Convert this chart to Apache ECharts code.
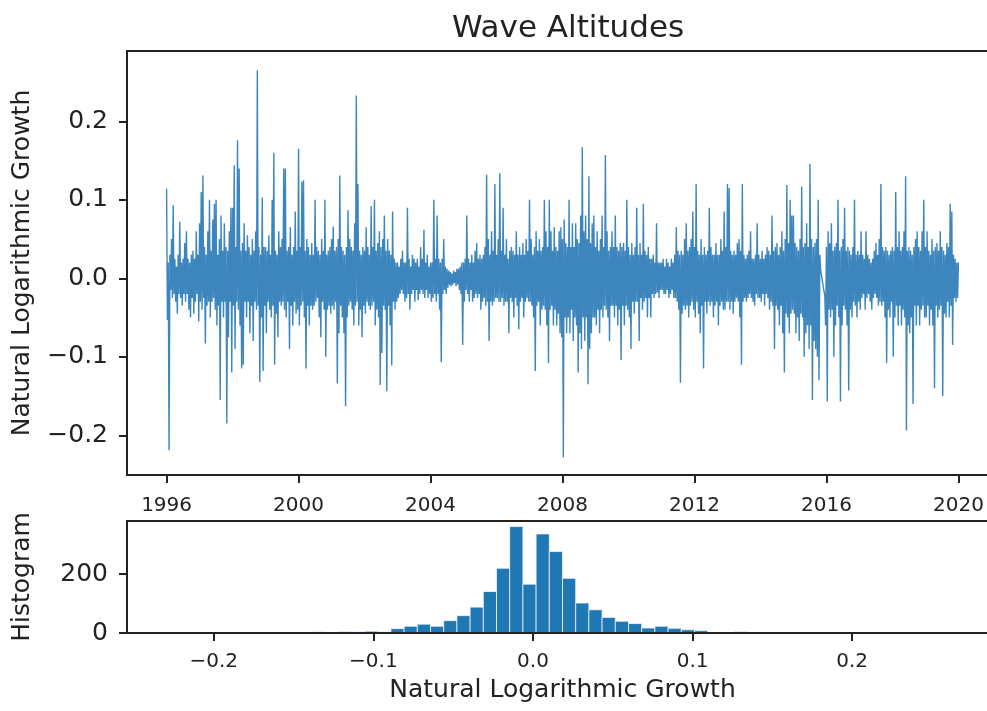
<!DOCTYPE html>
<html>
<head>
<meta charset="utf-8">
<title>Wave Altitudes</title>
<script src="https://cdn.jsdelivr.net/npm/echarts@6/dist/echarts.min.js"></script>
<style>
  html, body { margin: 0; padding: 0; background: #fff; }
  #chart { width: 987px; height: 711px; }
</style>
</head>
<body>
<div id="chart"></div>
<script>
// one value every 0.025 year (40 per year)
const startYear = 1996
const yearStep = 0.025

const waves1996 = [
  0.114, -0.053, 0.02, -0.219, 0.03, -0.015, 0.05, -0.025, 0.093, -0.02, 0.025, -0.03, 0.015, -0.045, 0.03, -0.02, 0.072, -0.025, 0.02, -0.035,
  0.025, -0.02, 0.045, -0.03, 0.06, -0.02, 0.025, -0.04, 0.02, -0.05, 0.03, -0.025, 0.035, -0.045, 0.025, -0.03, 0.06, -0.02, 0.03, -0.055,
  0.07, -0.03, 0.11, -0.04, 0.131, -0.025, 0.04, -0.083, 0.03, -0.035, 0.06, -0.03, 0.1, -0.05, 0.035, -0.03, 0.075, -0.025, 0.095, -0.04,
  0.1, -0.06, 0.03, -0.035, 0.05, -0.155, 0.08, -0.03, 0.035, -0.05, 0.07, -0.03, 0.04, -0.185, 0.035, -0.075, 0.06, -0.03, 0.09, -0.12,
  0.09, -0.035, 0.144, -0.09, 0.04, -0.03, 0.176, -0.04, 0.14, -0.06, 0.035, -0.115, 0.045, -0.11, 0.07, -0.03, 0.035, -0.05, 0.055, -0.03,
  0.04, -0.07, 0.03, -0.035, 0.05, -0.08, 0.035, -0.03, 0.06, -0.04, 0.265, -0.035, 0.04, -0.132, 0.03, -0.05, 0.103, -0.118, 0.04, -0.035,
  0.04, -0.07, 0.035, -0.03, 0.055, -0.04, 0.03, -0.05, 0.1, -0.035, 0.16, -0.11, 0.035, -0.045, 0.03, -0.075, 0.06, -0.03, 0.04, -0.035,
  0.05, -0.03, 0.14, -0.04, 0.14, -0.05, 0.035, -0.03, 0.04, -0.09, 0.065, -0.035, 0.03, -0.06, 0.04, -0.03, 0.085, -0.045, 0.035, -0.04
]
const waves2000 = [
  0.165, -0.06, 0.04, -0.035, 0.123, -0.03, 0.125, -0.05, 0.035, -0.115, 0.05, -0.035, 0.04, -0.06, 0.03, -0.035, 0.045, -0.04, 0.03, -0.035,
  0.1, -0.03, 0.04, -0.025, 0.035, -0.05, 0.03, -0.075, 0.05, -0.03, 0.035, -0.04, 0.1, -0.1, 0.03, -0.04, 0.035, -0.035, 0.04, -0.045,
  0.05, -0.035, 0.066, -0.04, 0.035, -0.03, 0.04, -0.134, 0.05, -0.07, 0.131, -0.035, 0.04, -0.05, 0.035, -0.07, 0.03, -0.163, 0.04, -0.05,
  0.087, -0.035, 0.05, -0.03, 0.04, -0.04, 0.035, -0.06, 0.07, -0.035, 0.233, -0.03, 0.12, -0.06, 0.035, -0.04, 0.03, -0.075, 0.04, -0.035,
  0.035, -0.045, 0.065, -0.03, 0.04, -0.035, 0.03, -0.04, 0.092, -0.035, 0.04, -0.03, 0.1, -0.06, 0.035, -0.04, 0.045, -0.05, 0.06, -0.136,
  0.04, -0.095, 0.05, -0.035, 0.08, -0.04, 0.035, -0.144, 0.05, -0.035, 0.035, -0.06, 0.03, -0.111, 0.085, -0.03, 0.025, -0.04, 0.02, -0.03,
  0.02, -0.025, 0.015, -0.02, 0.025, -0.015, 0.035, -0.02, 0.02, -0.03, 0.02, -0.025, 0.09, -0.02, 0.025, -0.04, 0.015, -0.02, 0.03, -0.015,
  0.025, -0.03, 0.02, -0.015, 0.025, -0.028, 0.015, -0.02, 0.04, -0.015, 0.025, -0.02, 0.062, -0.025, 0.02, -0.015, 0.03, -0.025, 0.015, -0.02
]
const waves2004 = [
  0.02, -0.03, 0.02, -0.025, 0.1, -0.02, 0.025, -0.03, 0.08, -0.02, 0.025, -0.04, 0.02, -0.107, 0.025, -0.02, 0.05, -0.015, 0.015, -0.02,
  0.012, -0.012, 0.01, -0.008, 0.008, -0.01, 0.006, -0.008, 0.01, -0.006, 0.008, -0.01, 0.012, -0.008, 0.012, -0.015, 0.015, -0.02, 0.02, -0.085,
  0.02, -0.03, 0.025, -0.015, 0.08, -0.02, 0.025, -0.03, 0.02, -0.015, 0.03, -0.03, 0.02, -0.025, 0.035, -0.02, 0.045, -0.025, 0.025, -0.02,
  0.03, -0.04, 0.025, -0.03, 0.03, -0.025, 0.04, -0.035, 0.132, -0.03, 0.05, -0.08, 0.03, -0.03, 0.06, -0.035, 0.035, -0.03, 0.12, -0.025,
  0.03, -0.025, 0.05, -0.03, 0.134, -0.03, 0.035, -0.025, 0.09, -0.035, 0.03, -0.03, 0.05, -0.03, 0.025, -0.07, 0.035, -0.025, 0.04, -0.03,
  0.035, -0.05, 0.03, -0.025, 0.06, -0.035, 0.03, -0.065, 0.04, -0.03, 0.03, -0.025, 0.045, -0.05, 0.03, -0.03, 0.05, -0.025, 0.035, -0.03,
  0.1, -0.03, 0.05, -0.035, 0.03, -0.05, 0.04, -0.118, 0.06, -0.035, 0.035, -0.03, 0.05, -0.06, 0.035, -0.04, 0.04, -0.035, 0.1, -0.04,
  0.06, -0.06, 0.04, -0.108, 0.1, -0.04, 0.06, -0.035, 0.035, -0.06, 0.065, -0.04, 0.04, -0.06, 0.035, -0.045, 0.06, -0.07, 0.065, -0.075
]
const waves2008 = [
  0.05, -0.228, 0.075, -0.05, 0.045, -0.07, 0.04, -0.05, 0.1, -0.07, 0.04, -0.04, 0.07, -0.08, 0.04, -0.05, 0.07, -0.06, 0.05, -0.12,
  0.045, -0.07, 0.08, -0.09, 0.167, -0.05, 0.06, -0.08, 0.08, -0.05, 0.05, -0.135, 0.13, -0.09, 0.045, -0.07, 0.07, -0.05, 0.08, -0.05,
  0.04, -0.06, 0.06, -0.04, 0.035, -0.07, 0.05, -0.04, 0.08, -0.05, 0.04, -0.035, 0.157, -0.04, 0.06, -0.05, 0.035, -0.08, 0.04, -0.035,
  0.06, -0.035, 0.04, -0.05, 0.08, -0.035, 0.04, -0.06, 0.035, -0.04, 0.045, -0.104, 0.04, -0.035, 0.045, -0.06, 0.035, -0.035, 0.1, -0.04,
  0.04, -0.05, 0.03, -0.09, 0.045, -0.03, 0.03, -0.045, 0.04, -0.03, 0.09, -0.03, 0.03, -0.08, 0.045, -0.025, 0.03, -0.04, 0.095, -0.03,
  0.035, -0.025, 0.03, -0.05, 0.04, -0.025, 0.025, -0.05, 0.025, -0.02, 0.03, -0.025, 0.02, -0.02, 0.07, -0.018, 0.02, -0.025, 0.02, -0.015,
  0.02, -0.015, 0.025, -0.02, 0.015, -0.02, 0.025, -0.015, 0.02, -0.025, 0.015, -0.02, 0.025, -0.015, 0.02, -0.025, 0.03, -0.025, 0.065, -0.03,
  0.035, -0.04, 0.03, -0.133, 0.035, -0.045, 0.03, -0.035, 0.05, -0.04, 0.07, -0.035, 0.035, -0.05, 0.04, -0.035, 0.05, -0.03, 0.085, -0.04
]
const waves2012 = [
  0.04, -0.05, 0.12, -0.03, 0.035, -0.045, 0.03, -0.07, 0.05, -0.035, 0.03, -0.115, 0.04, -0.03, 0.03, -0.045, 0.035, -0.03, 0.09, -0.035,
  0.04, -0.03, 0.03, -0.05, 0.03, -0.035, 0.045, -0.03, 0.03, -0.06, 0.03, -0.035, 0.05, -0.03, 0.035, -0.04, 0.085, -0.04, 0.04, -0.03,
  0.12, -0.03, 0.115, -0.04, 0.035, -0.03, 0.03, -0.045, 0.035, -0.03, 0.03, -0.025, 0.045, -0.03, 0.05, -0.05, 0.035, -0.11, 0.12, -0.03,
  0.03, -0.025, 0.025, -0.03, 0.03, -0.025, 0.035, -0.02, 0.06, -0.025, 0.025, -0.03, 0.025, -0.035, 0.03, -0.02, 0.07, -0.025, 0.03, -0.025,
  0.025, -0.03, 0.035, -0.02, 0.025, -0.035, 0.03, -0.02, 0.04, -0.025, 0.035, -0.04, 0.03, -0.03, 0.08, -0.035, 0.035, -0.09, 0.04, -0.035,
  0.045, -0.04, 0.03, -0.06, 0.04, -0.035, 0.06, -0.07, 0.035, -0.12, 0.05, -0.045, 0.119, -0.05, 0.045, -0.07, 0.1, -0.045, 0.08, -0.04,
  0.08, -0.045, 0.045, -0.07, 0.04, -0.05, 0.035, -0.08, 0.05, -0.045, 0.117, -0.05, 0.04, -0.1, 0.045, -0.07, 0.07, -0.06, 0.04, -0.09,
  0.146, -0.06, 0.05, -0.155, 0.04, -0.08, 0.045, -0.09, 0.05, -0.1, 0.1, -0.13, 0.03, 0.01, 0.004, -0.003, -0.01, -0.016, -0.022, -0.06
]
const waves2016 = [
  0.04, -0.157, 0.06, -0.04, 0.045, -0.05, 0.07, -0.04, 0.035, -0.1, 0.04, -0.06, 0.045, -0.035, 0.1, -0.05, 0.035, -0.157, 0.04, -0.06,
  0.05, -0.035, 0.09, -0.04, 0.035, -0.06, 0.04, -0.143, 0.035, -0.04, 0.03, -0.05, 0.04, -0.03, 0.1, -0.035, 0.03, -0.05, 0.035, -0.03,
  0.03, -0.04, 0.06, -0.025, 0.03, -0.02, 0.025, -0.04, 0.06, -0.025, 0.03, -0.02, 0.025, -0.03, 0.02, -0.04, 0.025, -0.025, 0.035, -0.02,
  0.045, -0.025, 0.03, -0.035, 0.05, -0.03, 0.12, -0.035, 0.04, -0.03, 0.035, -0.05, 0.04, -0.108, 0.035, -0.04, 0.03, -0.05, 0.035, -0.03,
  0.04, -0.1, 0.035, -0.05, 0.11, -0.035, 0.04, -0.06, 0.06, -0.035, 0.035, -0.06, 0.04, -0.04, 0.06, -0.05, 0.13, -0.194, 0.035, -0.06,
  0.04, -0.07, 0.035, -0.05, 0.03, -0.16, 0.04, -0.035, 0.05, -0.06, 0.06, -0.035, 0.04, -0.06, 0.035, -0.04, 0.06, -0.035, 0.1, -0.05,
  0.04, -0.05, 0.06, -0.035, 0.035, -0.06, 0.03, -0.04, 0.05, -0.06, 0.035, -0.14, 0.04, -0.035, 0.045, -0.05, 0.035, -0.04, 0.06, -0.035,
  0.04, -0.15, 0.035, -0.045, 0.03, -0.05, 0.045, -0.03, 0.04, -0.05, 0.095, -0.035, 0.085, -0.085, 0.03, -0.025, 0.025, -0.03, 0.02, -0.025,
  0.02
]

// histogram: 60 bins from the smallest value upward
const binStart = -0.2296
const binWidth = 0.00827
const binCounts = [
  1, 1, 0, 0, 1, 1, 0, 1, 3, 2,
  3, 4, 3, 5, 4, 6, 4, 15, 23, 30,
  23, 42, 59, 88, 141, 220, 362, 166, 337, 277,
  186, 102, 79, 53, 40, 32, 17, 23, 16, 11,
  8, 3, 2, 5, 2, 2, 1, 3, 1, 0,
  0, 1, 0, 0, 0, 1, 0, 0, 0, 1
]

const yearTicks = [1996, 2000, 2004, 2008, 2012, 2016, 2020]
const growthTicks = [-0.2, -0.1, 0.0, 0.1, 0.2]
const countTicks = [0, 200]

const waveValues = [].concat(waves1996, waves2000, waves2004, waves2008, waves2012, waves2016)
const lineData = waveValues.map((v, i) => [startYear + i * yearStep, v])
const histData = binCounts.map((c, i) => [binStart + i * binWidth, binStart + (i + 1) * binWidth, c])

const ink = '#222'
const font = 'DejaVu Sans'
const fmtNum = v => v.toFixed(1).replace('-', '\u2212')

const axisLine = { show: true, onZero: false, lineStyle: { color: ink, width: 2 } }
const axisTick = { show: true, length: 8, lineStyle: { color: ink, width: 2 } }

const chart = echarts.init(document.getElementById('chart'), null, { renderer: 'canvas' })

chart.setOption({
  animation: false,
  backgroundColor: '#fff',
  title: {
    text: 'Wave Altitudes',
    left: 563,
    top: 8,
    textAlign: 'center',
    textStyle: { fontFamily: font, fontSize: 31, fontWeight: 'normal', color: ink }
  },
  grid: [
    { left: 127, top: 51, width: 871, height: 424, outerBoundsMode: 'none', show: true, borderColor: ink, borderWidth: 2, backgroundColor: 'transparent' },
    { left: 127, top: 521, width: 871, height: 112, outerBoundsMode: 'none', show: true, borderColor: ink, borderWidth: 2, backgroundColor: 'transparent' }
  ],
  xAxis: [
    {
      type: 'value',
      gridIndex: 0,
      min: 1994.8,
      max: 2021.2,
      axisLine: axisLine,
      axisTick: Object.assign({ customValues: yearTicks }, axisTick),
      splitLine: { show: false },
      axisLabel: {
        customValues: yearTicks,
        formatter: v => String(v),
        fontFamily: font,
        fontSize: 20,
        color: ink,
        margin: 21
      }
    },
    {
      type: 'value',
      gridIndex: 1,
      min: -0.2544,
      max: 0.2914,
      name: 'Natural Logarithmic Growth',
      nameLocation: 'middle',
      nameGap: 45,
      nameTextStyle: { fontFamily: font, fontSize: 25, color: ink },
      axisLine: axisLine,
      axisTick: Object.assign({ customValues: growthTicks }, axisTick),
      splitLine: { show: false },
      axisLabel: {
        customValues: growthTicks,
        formatter: fmtNum,
        fontFamily: font,
        fontSize: 20,
        color: ink,
        margin: 19
      }
    }
  ],
  yAxis: [
    {
      type: 'value',
      gridIndex: 0,
      min: -0.2506,
      max: 0.2896,
      name: 'Natural Logarithmic Growth',
      nameLocation: 'middle',
      nameGap: 92,
      nameTextStyle: { fontFamily: font, fontSize: 25, color: ink },
      axisLine: axisLine,
      axisTick: Object.assign({ customValues: growthTicks }, axisTick),
      splitLine: { show: false },
      axisLabel: {
        customValues: growthTicks,
        formatter: fmtNum,
        fontFamily: font,
        fontSize: 25,
        color: ink,
        margin: 19
      }
    },
    {
      type: 'value',
      gridIndex: 1,
      min: 0,
      max: 381,
      name: 'Histogram',
      nameLocation: 'middle',
      nameGap: 92,
      nameTextStyle: { fontFamily: font, fontSize: 25, color: ink },
      axisLine: axisLine,
      axisTick: Object.assign({ customValues: countTicks }, axisTick),
      splitLine: { show: false },
      axisLabel: {
        customValues: countTicks,
        formatter: v => String(v),
        fontFamily: font,
        fontSize: 25,
        color: ink,
        margin: 19
      }
    }
  ],
  series: [
    {
      name: 'growth',
      type: 'line',
      xAxisIndex: 0,
      yAxisIndex: 0,
      data: lineData,
      showSymbol: false,
      sampling: null,
      lineStyle: { color: '#2879b6', width: 1.4, opacity: 0.9 }
    },
    {
      name: 'histogram',
      type: 'custom',
      xAxisIndex: 1,
      yAxisIndex: 1,
      z: -1, // keep the axis line on top of the bars
      data: histData,
      encode: { x: [0, 1], y: 2 },
      renderItem: function (params, api) {
        const top = api.coord([api.value(0), api.value(2)])
        const base = api.coord([api.value(1), 0])
        if (api.value(2) <= 0) return null
        return {
          type: 'rect',
          shape: { x: top[0], y: top[1], width: base[0] - top[0], height: base[1] - top[1] },
          style: { fill: '#1f77b4', stroke: '#fff', lineWidth: 0.7 }
        }
      }
    }
  ]
})

window.addEventListener('resize', () => chart.resize())
</script>
</body>
</html>
